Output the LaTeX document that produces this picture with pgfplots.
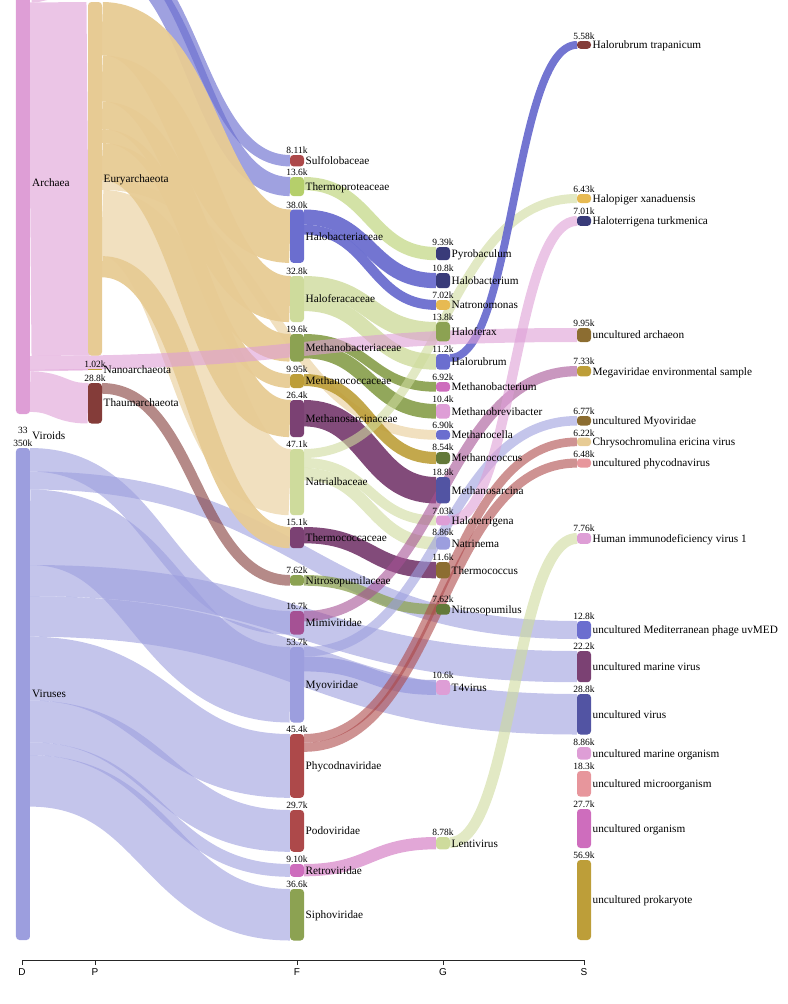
\documentclass[border=0pt]{standalone}
\usepackage{fontspec}
\setmainfont{Liberation Serif}
\newfontfamily\axfont{Liberation Sans}
\usepackage{pgfplots}
\pgfplotsset{compat=1.18}

\definecolor{dnavy}{HTML}{393B79}
\definecolor{indigo}{HTML}{5254A3}
\definecolor{blue}{HTML}{6B6ECF}
\definecolor{lav}{HTML}{9C9EDE}
\definecolor{dgreen}{HTML}{637939}
\definecolor{green}{HTML}{8CA252}
\definecolor{lime}{HTML}{B5CF6B}
\definecolor{pale}{HTML}{CEDB9C}
\definecolor{brown}{HTML}{8C6D31}
\definecolor{gold}{HTML}{BD9E39}
\definecolor{yellow}{HTML}{E7BA52}
\definecolor{tan}{HTML}{E7CB94}
\definecolor{dred}{HTML}{843C39}
\definecolor{red}{HTML}{AD494A}
\definecolor{salmon}{HTML}{E7969C}
\definecolor{purple}{HTML}{7B4173}
\definecolor{magenta}{HTML}{A55194}
\definecolor{orchid}{HTML}{CE6DBD}
\definecolor{pink}{HTML}{DE9ED6}

\tikzset{
  lab/.style={anchor=west, inner sep=0pt, font=\fontsize{11.25bp}{13bp}\selectfont, text height=7.9bp, text depth=0pt},
  valst/.style={anchor=base, inner sep=0pt, yshift=1.5bp, font=\fontsize{9.5bp}{11bp}\selectfont},
}
% link: x0 x1 xmid yc0 yc1 width colour opacity
\newcommand{\lnk}[8]{\draw[#7, draw opacity=#8, line width=#6bp] (axis cs:#1,#4) .. controls (axis cs:#3,#4) and (axis cs:#3,#5) .. (axis cs:#2,#5);}
% node: x0 x1 y0 y1 colour
\newcommand{\nd}[5]{\addplot[fill=#5, draw=none, rounded corners=3.5bp] coordinates {(#1,#3) (#2,#3) (#2,#4) (#1,#4)} -- cycle;}
\newcommand{\lbl}[3]{\node[lab] at (axis cs:#1,#2) {#3};}
\newcommand{\val}[3]{\node[valst] at (axis cs:#1,#2) {#3};}

\begin{document}
\begin{tikzpicture}
\begin{axis}[
  scale only axis, width=562bp, height=960bp,
  xmin=22, xmax=584, ymin=0, ymax=960, y dir=reverse,
  clip=false,
  axis x line*=bottom, axis y line=none,
  xtick={22,95,297,443,584}, xticklabels={D,P,F,G,S},
  tick align=outside, major tick length=5bp,
  xticklabel style={font=\axfont\fontsize{10bp}{12bp}\selectfont, inner sep=0pt, yshift=-3bp},
  axis line style={black!85, line width=0.9bp},
  x tick style={black!85, line width=0.9bp},
  ytick=\empty,
]
\coordinate (TL) at (axis cs:0,0);
\coordinate (BR) at (axis cs:787,1004);

% ---- links ----
% Archaea
\lnk{30}{88}{59}{-22.75}{-54.75}{50.5}{pink}{0.6}
\lnk{30}{88}{59}{179.25}{178.75}{353.5}{pink}{0.6}
\lnk{30}{88}{59}{370.7}{369.7}{1.4}{pink}{0.6}
\lnk{30}{88}{59}{391.65}{403.25}{40.5}{pink}{0.6}
% Viruses
\lnk{30}{290}{160}{459.75}{622.75}{23.5}{lav}{0.6}
\lnk{30}{577}{303.5}{480.5}{630}{18}{lav}{0.6}
\lnk{30}{290}{160}{527.25}{684.75}{75.5}{lav}{0.6}
\lnk{30}{577}{303.5}{580.6}{666.6}{31.2}{lav}{0.6}
\lnk{30}{577}{303.5}{616.45}{714.25}{40.5}{lav}{0.6}
\lnk{30}{290}{160}{668.6}{765.9}{63.8}{lav}{0.6}
\lnk{30}{290}{160}{721.4}{830.9}{41.8}{lav}{0.6}
\lnk{30}{290}{160}{748.7}{870.4}{12.8}{lav}{0.6}
\lnk{30}{290}{160}{780.85}{914.75}{51.5}{lav}{0.6}
% Crenarchaeota
\lnk{102}{290}{196}{-54.3}{160.7}{11.4}{blue}{0.65}
\lnk{102}{290}{196}{-39.05}{186.55}{19.1}{blue}{0.65}
% Euryarchaeota
\lnk{102}{290}{196}{28.7}{236.2}{53.4}{tan}{0.95}
\lnk{102}{290}{196}{78.45}{299.05}{46.1}{tan}{0.95}
\lnk{102}{290}{196}{115.3}{347.8}{27.6}{tan}{0.95}
\lnk{102}{290}{196}{136.1}{381}{14}{tan}{0.95}
\lnk{102}{290}{196}{161.65}{418.55}{37.1}{tan}{0.95}
\lnk{102}{436}{269}{185.05}{434.85}{9.7}{tan}{0.6}
\lnk{102}{290}{196}{223}{482.1}{66.2}{tan}{0.6}
\lnk{102}{290}{196}{266.7}{537.6}{21.2}{tan}{0.95}
% Thaumarchaeota
\lnk{102}{290}{196}{388.35}{580.35}{10.7}{dred}{0.6}
% families -> genera
\lnk{304}{436}{370}{183.6}{253.6}{13.2}{lime}{0.6}
\lnk{304}{436}{370}{217.1}{280.6}{15.2}{blue}{0.95}
\lnk{304}{436}{370}{229.65}{304.95}{9.9}{blue}{0.95}
\lnk{304}{436}{370}{285.7}{331.7}{19.4}{pale}{0.8}
\lnk{304}{436}{370}{303.25}{361.85}{15.7}{pale}{0.8}
\lnk{304}{436}{370}{338.85}{386.85}{9.7}{green}{0.95}
\lnk{304}{436}{370}{351}{411.3}{14.6}{green}{0.95}
\lnk{304}{436}{370}{380}{458}{12}{gold}{0.9}
\lnk{304}{436}{370}{413.2}{490.2}{26.4}{purple}{0.95}
\lnk{304}{436}{370}{462.95}{520.45}{9.9}{pale}{0.6}
\lnk{304}{436}{370}{474.15}{543.25}{12.5}{pale}{0.6}
\lnk{304}{436}{370}{535.15}{570.15}{16.3}{purple}{0.95}
\lnk{304}{436}{370}{580.35}{609.35}{10.7}{green}{0.75}
\lnk{304}{436}{370}{663.95}{687.45}{14.9}{lav}{0.8}
\lnk{304}{436}{370}{870.15}{843.15}{12.3}{orchid}{0.6}
% families -> species
\lnk{304}{577}{440.5}{453.5}{198.5}{9}{pale}{0.6}
\lnk{304}{577}{440.5}{616.15}{371.15}{10.3}{magenta}{0.6}
\lnk{304}{577}{440.5}{651.75}{420.75}{9.5}{lav}{0.6}
\lnk{304}{577}{440.5}{738.35}{441.85}{8.7}{red}{0.6}
\lnk{304}{577}{440.5}{747.25}{463.05}{9.1}{red}{0.6}
% genera -> species
\lnk{450}{577}{513.5}{357.9}{44.9}{7.8}{blue}{0.95}
\lnk{450}{577}{513.5}{520.45}{220.95}{9.9}{pink}{0.6}
\lnk{450}{577}{513.5}{842.45}{538.45}{10.9}{pale}{0.6}
% Archaea -> uncultured archaeon (drawn over)
\lnk{30}{577}{303.5}{363}{335}{14}{pink}{0.6}

% ---- nodes ----
\nd{16}{30}{-48}{414}{pink}
\nd{16}{30}{448}{940}{lav}
\nd{88}{102}{-80}{-29.5}{blue}
\nd{88}{102}{2}{355.5}{tan}
\addplot[fill=gold, draw=none] coordinates {(88,369) (102,369) (102,370.4) (88,370.4)} -- cycle;
\nd{88}{102}{383}{423.5}{dred}
% F
\nd{290}{304}{155}{166.4}{red}
\nd{290}{304}{177}{196.1}{lime}
\nd{290}{304}{209.5}{262.9}{blue}
\nd{290}{304}{276}{322.1}{pale}
\nd{290}{304}{334}{361.6}{green}
\nd{290}{304}{374}{388}{gold}
\nd{290}{304}{400}{437.1}{purple}
\nd{290}{304}{449}{515.2}{pale}
\nd{290}{304}{527}{548.2}{purple}
\nd{290}{304}{575}{585.7}{green}
\nd{290}{304}{611}{634.5}{magenta}
\nd{290}{304}{647}{722.5}{lav}
\nd{290}{304}{734}{797.8}{red}
\nd{290}{304}{810}{851.8}{red}
\nd{290}{304}{864}{876.8}{orchid}
\nd{290}{304}{889}{940.5}{green}
% G
\nd{436}{450}{247}{260.2}{dnavy}
\nd{436}{450}{273}{288.2}{dnavy}
\nd{436}{450}{300}{309.9}{yellow}
\nd{436}{450}{322}{341.4}{green}
\nd{436}{450}{354}{369.7}{blue}
\nd{436}{450}{382}{391.7}{orchid}
\nd{436}{450}{404}{418.6}{pink}
\nd{436}{450}{430}{439.7}{blue}
\nd{436}{450}{452}{464}{dgreen}
\nd{436}{450}{477}{503.4}{indigo}
\nd{436}{450}{515.5}{525.4}{pink}
\nd{436}{450}{537}{549.5}{lav}
\nd{436}{450}{562}{578.3}{brown}
\nd{436}{450}{604}{614.7}{dgreen}
\nd{436}{450}{680}{694.9}{pink}
\nd{436}{450}{837}{849.3}{pale}
% S
\nd{577}{591}{41}{48.8}{dred}
\nd{577}{591}{194}{203}{yellow}
\nd{577}{591}{216}{225.9}{dnavy}
\nd{577}{591}{328}{342}{brown}
\nd{577}{591}{366}{376.3}{gold}
\nd{577}{591}{416}{425.5}{brown}
\nd{577}{591}{437.5}{446.2}{tan}
\nd{577}{591}{458.5}{467.6}{salmon}
\nd{577}{591}{533}{543.9}{pink}
\nd{577}{591}{621}{639}{blue}
\nd{577}{591}{651}{682.2}{purple}
\nd{577}{591}{694}{734.5}{indigo}
\nd{577}{591}{747}{759.5}{pink}
\nd{577}{591}{771}{796.7}{salmon}
\nd{577}{591}{809}{848}{orchid}
\nd{577}{591}{860}{940}{gold}

% ---- labels ----
\lbl{32}{183}{Archaea}
\lbl{32}{436}{Viroids}\val{23}{435}{33}
\lbl{32}{694}{Viruses}\val{23}{448}{350k}
\lbl{103.5}{179}{Euryarchaeota}
\lbl{103.5}{370}{Nanoarchaeota}\val{95}{369}{1.02k}
\lbl{103.5}{403}{Thaumarchaeota}\val{95}{383}{28.8k}
% F
\lbl{305.5}{160.7}{Sulfolobaceae}\val{297}{155}{8.11k}
\lbl{305.5}{186.5}{Thermoproteaceae}\val{297}{177}{13.6k}
\lbl{305.5}{236.2}{Halobacteriaceae}\val{297}{209.5}{38.0k}
\lbl{305.5}{299}{Haloferacaceae}\val{297}{276}{32.8k}
\lbl{305.5}{347.8}{Methanobacteriaceae}\val{297}{334}{19.6k}
\lbl{305.5}{381}{Methanococcaceae}\val{297}{374}{9.95k}
\lbl{305.5}{418.5}{Methanosarcinaceae}\val{297}{400}{26.4k}
\lbl{305.5}{482}{Natrialbaceae}\val{297}{449}{47.1k}
\lbl{305.5}{537.6}{Thermococcaceae}\val{297}{527}{15.1k}
\lbl{305.5}{580.3}{Nitrosopumilaceae}\val{297}{575}{7.62k}
\lbl{305.5}{622.7}{Mimiviridae}\val{297}{611}{16.7k}
\lbl{305.5}{684.7}{Myoviridae}\val{297}{647}{53.7k}
\lbl{305.5}{765.9}{Phycodnaviridae}\val{297}{734}{45.4k}
\lbl{305.5}{830.9}{Podoviridae}\val{297}{810}{29.7k}
\lbl{305.5}{870.4}{Retroviridae}\val{297}{864}{9.10k}
\lbl{305.5}{914.7}{Siphoviridae}\val{297}{889}{36.6k}
% G
\lbl{451.5}{253.6}{Pyrobaculum}\val{443}{247}{9.39k}
\lbl{451.5}{280.6}{Halobacterium}\val{443}{273}{10.8k}
\lbl{451.5}{305}{Natronomonas}\val{443}{300}{7.02k}
\lbl{451.5}{331.7}{Haloferax}\val{443}{322}{13.8k}
\lbl{451.5}{361.8}{Halorubrum}\val{443}{354}{11.2k}
\lbl{451.5}{386.8}{Methanobacterium}\val{443}{382}{6.92k}
\lbl{451.5}{411.3}{Methanobrevibacter}\val{443}{404}{10.4k}
\lbl{451.5}{434.8}{Methanocella}\val{443}{430}{6.90k}
\lbl{451.5}{458}{Methanococcus}\val{443}{452}{8.54k}
\lbl{451.5}{490.2}{Methanosarcina}\val{443}{477}{18.8k}
\lbl{451.5}{520.4}{Haloterrigena}\val{443}{515.5}{7.03k}
\lbl{451.5}{543.2}{Natrinema}\val{443}{537}{8.86k}
\lbl{451.5}{570.1}{Thermococcus}\val{443}{562}{11.6k}
\lbl{451.5}{609.3}{Nitrosopumilus}\val{443}{604}{7.62k}
\lbl{451.5}{687.4}{T4virus}\val{443}{680}{10.6k}
\lbl{451.5}{843.1}{Lentivirus}\val{443}{837}{8.78k}
% S
\lbl{592.5}{44.9}{Halorubrum trapanicum}\val{584}{41}{5.58k}
\lbl{592.5}{198.5}{Halopiger xanaduensis}\val{584}{194}{6.43k}
\lbl{592.5}{221}{Haloterrigena turkmenica}\val{584}{216}{7.01k}
\lbl{592.5}{335}{uncultured archaeon}\val{584}{328}{9.95k}
\lbl{592.5}{371.2}{Megaviridae environmental sample}\val{584}{366}{7.33k}
\lbl{592.5}{420.8}{uncultured Myoviridae}\val{584}{416}{6.77k}
\lbl{592.5}{441.9}{Chrysochromulina ericina virus}\val{584}{437.5}{6.22k}
\lbl{592.5}{463}{uncultured phycodnavirus}\val{584}{458.5}{6.48k}
\lbl{592.5}{538.5}{Human immunodeficiency virus 1}\val{584}{533}{7.76k}
\lbl{592.5}{630}{uncultured Mediterranean phage uvMED}\val{584}{621}{12.8k}
\lbl{592.5}{666.6}{uncultured marine virus}\val{584}{651}{22.2k}
\lbl{592.5}{714.2}{uncultured virus}\val{584}{694}{28.8k}
\lbl{592.5}{753.2}{uncultured marine organism}\val{584}{747}{8.86k}
\lbl{592.5}{783.8}{uncultured microorganism}\val{584}{771}{18.3k}
\lbl{592.5}{828.5}{uncultured organism}\val{584}{809}{27.7k}
\lbl{592.5}{900}{uncultured prokaryote}\val{584}{860}{56.9k}
\end{axis}
\pgfresetboundingbox
\path[use as bounding box] (TL) rectangle (BR);
\end{tikzpicture}
\end{document}
